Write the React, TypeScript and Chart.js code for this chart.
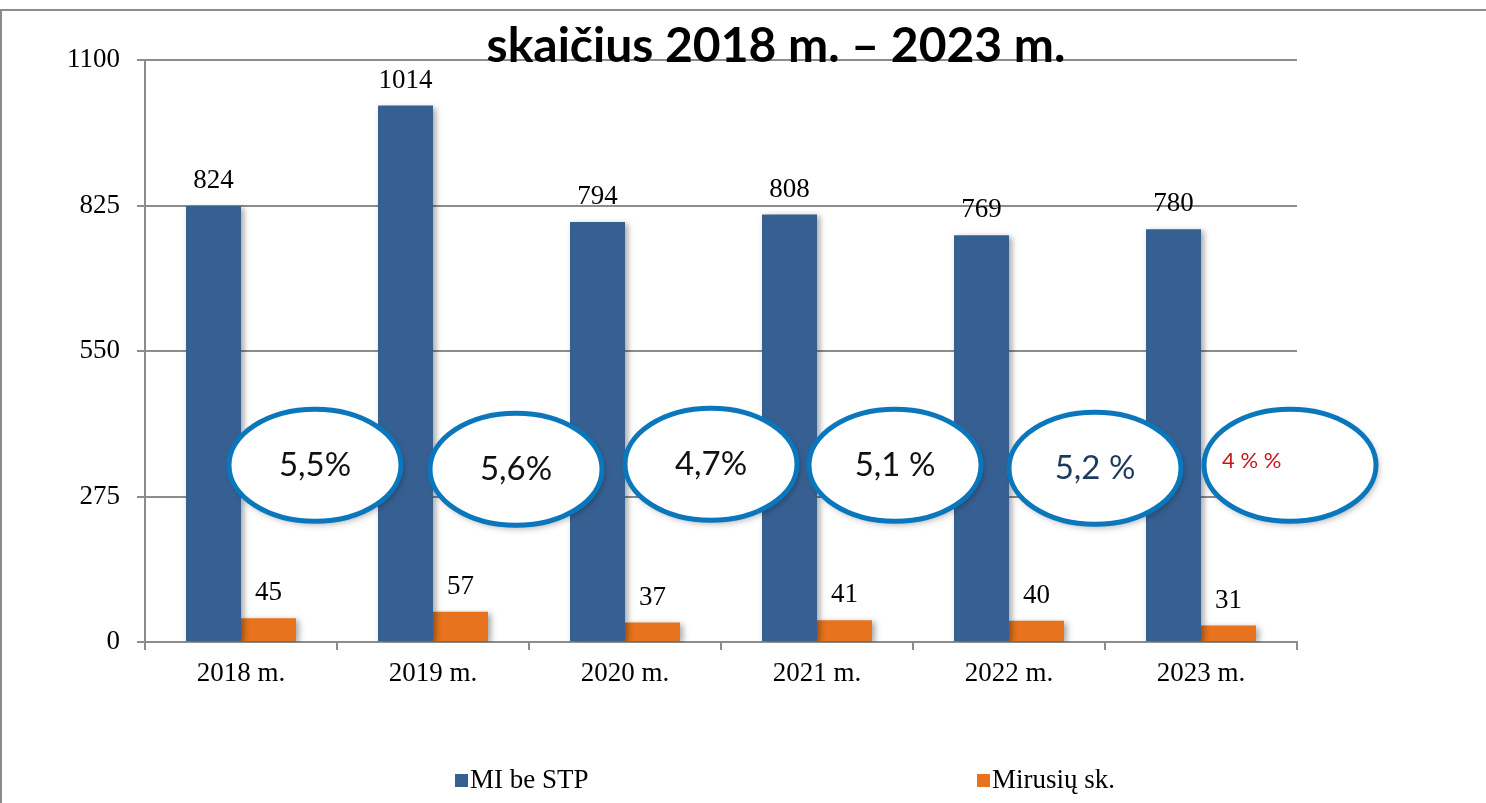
import React, { useEffect, useRef } from "react";
import { Chart, registerables } from "chart.js";

Chart.register(...registerables);

const categories = ["2018 m.", "2019 m.", "2020 m.", "2021 m.", "2022 m.", "2023 m."];
const miBeStp = [824, 1014, 794, 808, 769, 780];
const mirusiu = [45, 57, 37, 41, 40, 31];
const percentLabels = ["5,5%", "5,6%", "4,7%", "5,1 %", "5,2 %", "4 % %"];
const yTicks = [0, 275, 550, 825, 1100];
const titleText = "skaičius 2018 m. – 2023 m.";
const seriesNames = ["MI be STP", "Mirusių sk."];

const BLUE = "#376092";
const ORANGE = "#E8731E";
const GRID = "#8c8c8c";
const SERIF = "'Liberation Serif', 'Times New Roman', serif";
const SANS = "Lato, 'Open Sans', sans-serif";

const ellipseStyle = [
  { dx: 74, dy: 0, text: "#111111", size: 33, align: "center" },
  { dx: 83, dy: 4, text: "#111111", size: 33, align: "center" },
  { dx: 86, dy: -1, text: "#111111", size: 33, align: "center" },
  { dx: 78, dy: 0, text: "#111111", size: 33, align: "center" },
  { dx: 86, dy: 3, text: "#1F3A5F", size: 33, align: "center" },
  { dx: 89, dy: 0, text: "#C8161D", size: 22, align: "left" },
];

export default function App() {
  const ref = useRef<HTMLCanvasElement | null>(null);

  useEffect(() => {
    if (!ref.current) return;

    const decorPlugin = {
      id: "decor",
      beforeDatasetsDraw(chart: any) {
        const ctx = chart.ctx;
        ctx.save();
        ctx.shadowColor = "rgba(0,0,0,0.35)";
        ctx.shadowBlur = 6;
        ctx.shadowOffsetX = 3;
        ctx.shadowOffsetY = 2;
      },
      afterDatasetsDraw(chart: any) {
        const ctx = chart.ctx;
        ctx.restore();
        // value labels
        ctx.save();
        ctx.font = `27px ${SERIF}`;
        ctx.fillStyle = "#000";
        ctx.textAlign = "center";
        ctx.textBaseline = "middle";
        chart.data.datasets.forEach((ds: any, di: number) => {
          const meta = chart.getDatasetMeta(di);
          meta.data.forEach((bar: any, i: number) => {
            ctx.fillText(String(ds.data[i]), bar.x, bar.y - 25);
          });
        });
        ctx.restore();
        // ellipses
        const xs = chart.scales.x;
        const ys = chart.scales.y;
        percentLabels.forEach((txt, i) => {
          const st = ellipseStyle[i];
          const cx = xs.getPixelForValue(i) + st.dx;
          const cy = ys.getPixelForValue(334) + st.dy;
          ctx.save();
          ctx.beginPath();
          ctx.ellipse(cx, cy, 86, 56, 0, 0, Math.PI * 2);
          ctx.shadowColor = "rgba(0,0,0,0.35)";
          ctx.shadowBlur = 7;
          ctx.shadowOffsetX = 2;
          ctx.shadowOffsetY = 3;
          ctx.fillStyle = "#ffffff";
          ctx.fill();
          ctx.shadowColor = "transparent";
          ctx.lineWidth = 5;
          ctx.strokeStyle = "#0A77BD";
          ctx.stroke();
          ctx.font = `${st.size}px ${SANS}`;
          ctx.fillStyle = st.text;
          ctx.textBaseline = "middle";
          if (st.align === "left") {
            ctx.textAlign = "left";
            ctx.fillText(txt, cx - 68, cy - 4);
          } else {
            ctx.textAlign = "center";
            ctx.fillText(txt, cx, cy);
          }
          ctx.restore();
        });
      },
      afterDraw(chart: any) {
        const ctx = chart.ctx;
        const W = chart.width;
        const H = chart.height;
        ctx.save();
        // frame
        ctx.strokeStyle = GRID;
        ctx.lineWidth = 2;
        ctx.beginPath();
        ctx.moveTo(0, 10);
        ctx.lineTo(W, 10);
        ctx.moveTo(1, 10);
        ctx.lineTo(1, H);
        ctx.stroke();
        // title
        ctx.font = `bold 48px ${SANS}`;
        ctx.fillStyle = "#000";
        ctx.textAlign = "center";
        ctx.textBaseline = "alphabetic";
        ctx.fillText(titleText, 776, 62);
        // legend
        ctx.font = `27px ${SERIF}`;
        ctx.textAlign = "left";
        ctx.textBaseline = "middle";
        const items = [
          { x: 455, color: BLUE, label: seriesNames[0] },
          { x: 977, color: ORANGE, label: seriesNames[1] },
        ];
        items.forEach((it) => {
          ctx.fillStyle = it.color;
          ctx.fillRect(it.x, 774, 13, 13);
          ctx.fillStyle = "#000";
          ctx.fillText(it.label, it.x + 15, 781);
        });
        ctx.restore();
      },
    };

    const chart = new Chart(ref.current, {
      type: "bar",
      data: {
        labels: categories,
        datasets: [
          { label: seriesNames[0], data: miBeStp, backgroundColor: BLUE, borderWidth: 0 },
          { label: seriesNames[1], data: mirusiu, backgroundColor: ORANGE, borderWidth: 0 },
        ],
      },
      options: {
        responsive: false,
        animation: false,
        devicePixelRatio: 1,
        layout: { padding: { left: 0, top: 60, right: 189, bottom: 0 } },
        plugins: {
          legend: { display: false },
          title: { display: false },
          tooltip: { enabled: false },
        },
        datasets: {
          bar: { barPercentage: 1, categoryPercentage: 0.573 },
        },
        scales: {
          x: {
            grid: {
              offset: true,
              drawOnChartArea: false,
              drawTicks: true,
              tickLength: 8,
              color: GRID,
              lineWidth: 2,
            },
            border: { display: true, color: GRID, width: 2 },
            ticks: {
              font: { family: SERIF, size: 27 },
              color: "#000",
              padding: 8,
              maxRotation: 0,
            },
            afterFit(scale: any) {
              scale.height = 803 - 642;
            },
          },
          y: {
            min: 0,
            max: 1100,
            afterBuildTicks(scale: any) {
              scale.ticks = yTicks.map((v) => ({ value: v }));
            },
            grid: {
              color: GRID,
              lineWidth: 2,
              tickLength: 8,
              drawTicks: true,
            },
            border: { display: true, color: GRID, width: 2 },
            ticks: {
              font: { family: SERIF, size: 27 },
              color: "#000",
              padding: 17,
              callback: (v: any) => String(v),
            },
            afterFit(scale: any) {
              scale.width = 145;
            },
          },
        },
      },
      plugins: [decorPlugin],
    });

    return () => chart.destroy();
  }, []);

  return (
    <div style={{ position: "absolute", left: 0, top: 0, width: 1486, height: 803, background: "#fff" }}>
      <canvas ref={ref} width={1486} height={803} style={{ display: "block" }} />
    </div>
  );
}
